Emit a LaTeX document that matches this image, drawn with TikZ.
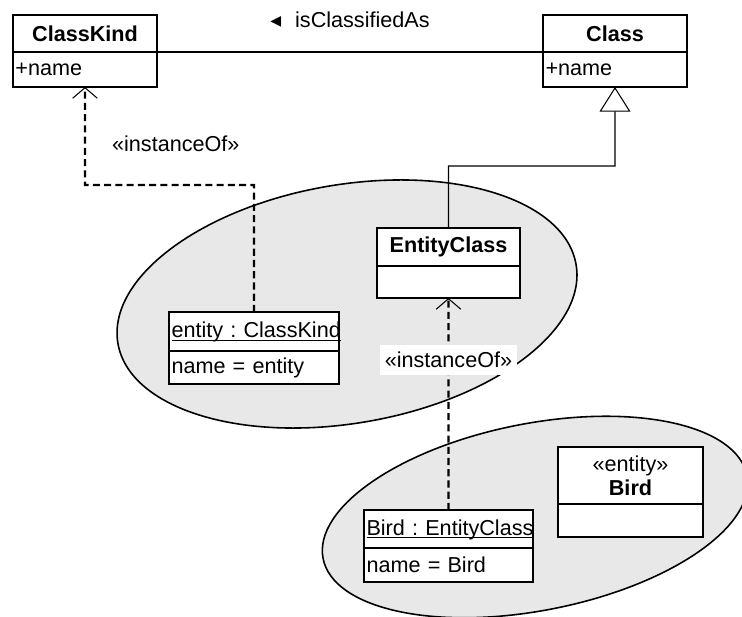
\documentclass[tikz,border=0pt]{standalone}
\usepackage{fontspec}
\setmainfont{Liberation Sans}
\newfontfamily\symfont{DejaVu Sans}
\usepackage{tikz}
\usetikzlibrary{positioning,arrows.meta}

\newcommand{\umlfont}{\fontsize{12.3}{13.6}\selectfont\frenchspacing}
\newcommand{\objname}[1]{\underline{\raisebox{0pt}[\height][0pt]{#1}}}

\tikzset{
  classhead/.style={draw, line width=1pt, fill=white, inner sep=0pt, outer sep=0pt, align=center, font=\umlfont\bfseries, anchor=north west},
  objhead/.style={draw, line width=1pt, fill=white, inner xsep=0.05cm, inner ysep=0pt, outer sep=0pt, text width=#1, align=left, font=\umlfont, anchor=north west},
  compart/.style={draw, line width=1pt, fill=white, inner xsep=0.05cm, inner ysep=0pt, outer sep=0pt, text width=#1, align=left, font=\umlfont},
  zone/.style={draw=black, line width=0.9pt, fill=gray!18},
  assoc/.style={line width=0.6pt},
  instof/.style={line width=1.3pt, dash pattern=on 4pt off 2.4pt, -{Straight Barb[length=6pt,width=14pt,line width=0.6pt]}},
  genz/.style={line width=0.6pt, -{Triangle[open,length=14pt,width=17.5pt,fill=white,line width=0.6pt]}}
}

\begin{document}
\begin{tikzpicture}[x=0.02cm, y=-0.02cm]
  \useasboundingbox (0,0) rectangle (742,617);

  % the two groups
  \filldraw[zone, rotate around={9.8:(347,304)}] (347,304) ellipse [x radius=4.65cm, y radius=2.386cm];
  \filldraw[zone, rotate around={11.1:(535,517)}] (535,517) ellipse [x radius=4.32cm, y radius=1.87cm];

  % classes
  \node[classhead, minimum width=2.88cm, minimum height=0.74cm] (ckhead) at (13,15) {ClassKind};
  \node[compart=2.78cm, minimum height=0.70cm, below=0pt of ckhead] (ckbody) {+name};
  \node[classhead, minimum width=2.88cm, minimum height=0.74cm] (clhead) at (543,15) {Class};
  \node[compart=2.78cm, minimum height=0.70cm, below=0pt of clhead] (clbody) {+name};
  \node[classhead, minimum width=2.86cm, minimum height=0.76cm] (echead) at (377,228) {EntityClass};
  \node[compart=2.76cm, minimum height=0.64cm, below=0pt of echead] (ecbody) {};
  \node[classhead, minimum width=2.9cm, minimum height=1.14cm] (birdhead) at (558,447) {{\mdseries «entity»}\\Bird};
  \node[compart=2.8cm, minimum height=0.66cm, below=0pt of birdhead] (birdbody) {};

  % objects
  \node[objhead=3.3cm, minimum height=0.78cm] (entobjhead) at (169,312) {\objname{entity : ClassKind}};
  \node[compart=3.3cm, minimum height=0.66cm, below=0pt of entobjhead] (entobjbody) {name = entity};
  \node[objhead=3.28cm, minimum height=0.76cm] (birdobjhead) at (364,510) {\objname{Bird : EntityClass}};
  \node[compart=3.28cm, minimum height=0.68cm, below=0pt of birdobjhead] (birdobjbody) {name = Bird};

  % links
  \coordinate (kbend) at (254,185);
  \coordinate (gbend) at (448.5,166);
  \draw[assoc] (ckhead.south east) -- (clhead.south west)
    node[midway, above=0.48cm, inner sep=0pt, font=\umlfont] {{\symfont ◂}\hspace{0.28cm}isClassifiedAs};
  \draw[genz] (echead.north) -- (gbend) -| (clbody.south);
  \draw[instof] (entobjhead.north) -- (kbend) -| (ckbody.south)
    node[pos=0.71, right=0.52cm, inner sep=0pt, font=\umlfont] {«instanceOf»};
  \draw[instof] (birdobjhead.north) -- (ecbody.south)
    node[pos=0.708, fill=white, inner xsep=2.5pt, inner ysep=4pt, font=\umlfont] {«instanceOf»};
\end{tikzpicture}
\end{document}
